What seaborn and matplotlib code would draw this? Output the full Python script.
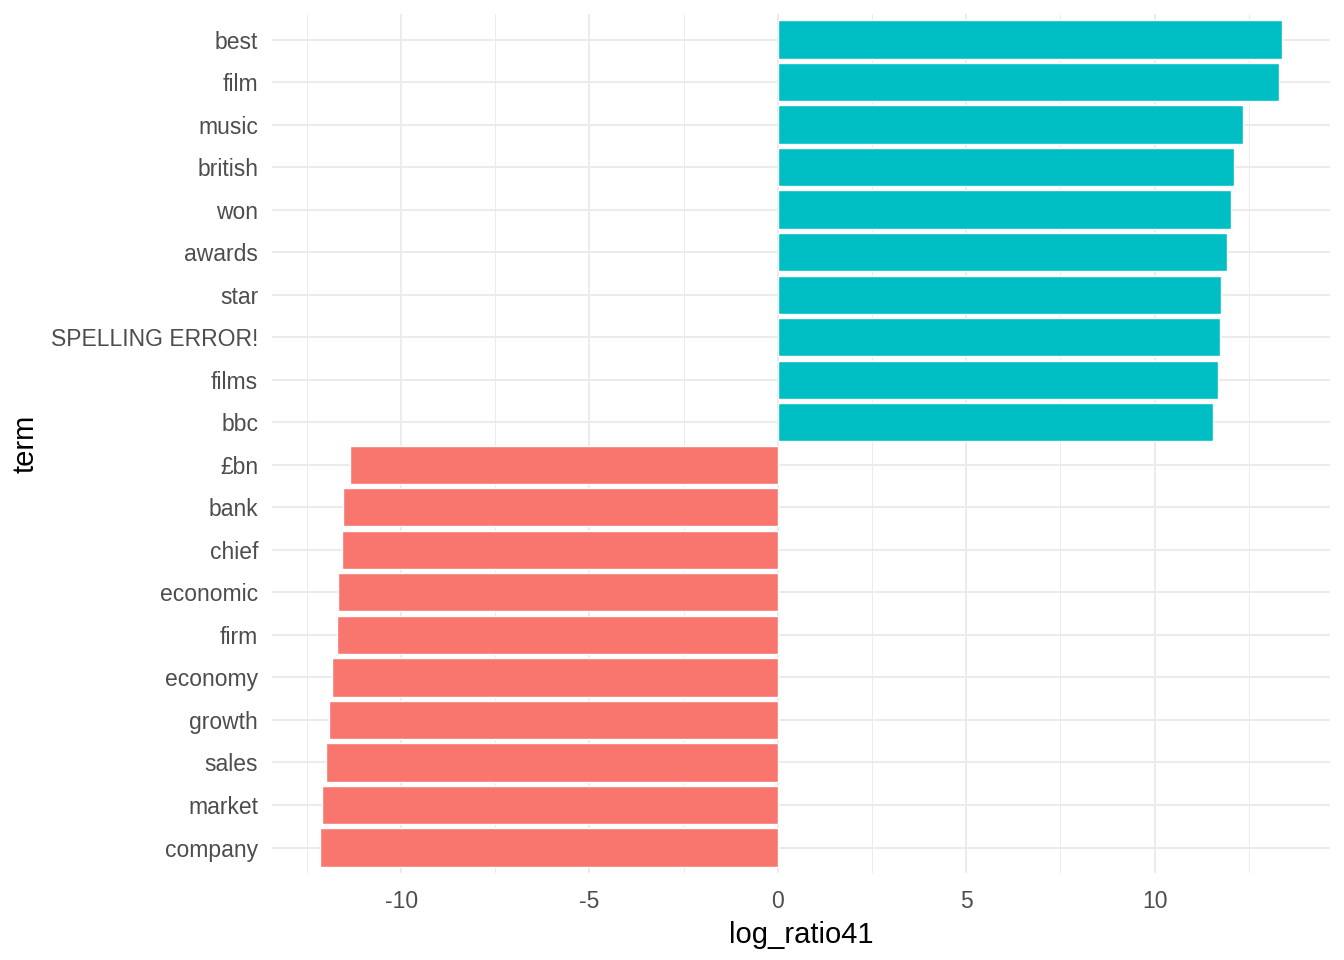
import numpy as np
import pandas as pd
import matplotlib
matplotlib.use("Agg")
import matplotlib.pyplot as plt
import seaborn as sns
from matplotlib.ticker import MultipleLocator

terms = ["best", "film", "music", "british", "won", "awards", "star",
         "SPELLING ERROR!", "films", "bbc", "£bn", "bank", "chief",
         "economic", "firm", "economy", "growth", "sales", "market", "company"]
log_ratio = [13.38, 13.30, 12.34, 12.10, 12.02, 11.91, 11.76, 11.73, 11.68, 11.54,
             -11.36, -11.54, -11.57, -11.68, -11.70, -11.84, -11.91, -11.99, -12.10, -12.15]

df = pd.DataFrame({"term": terms, "log_ratio41": log_ratio})
df["positive"] = df["log_ratio41"] > 0

sns.set_style("white")
plt.rcParams['font.family'] = ['Liberation Sans', 'DejaVu Sans']
plt.rcParams['axes.unicode_minus'] = False

fig = plt.figure(figsize=(13.44, 9.6), dpi=100)
ax = fig.add_axes([0.2024, 0.0906, 0.7872, 0.8948])

sns.barplot(data=df, y="term", x="log_ratio41", hue="positive", order=terms,
            palette={True: "#00BFC4", False: "#F8766D"}, dodge=False,
            width=0.9, orient="h", legend=False, ax=ax, saturation=1)

lo, hi = min(log_ratio), max(log_ratio)
pad = (hi - lo) * 0.05
ax.set_xlim(lo - pad, hi + pad)
ax.set_ylim(len(terms) - 1 + 0.6, -0.6)

ax.xaxis.set_major_locator(MultipleLocator(5))
ax.xaxis.set_minor_locator(MultipleLocator(2.5))
ax.set_axisbelow(True)
ax.grid(which="major", color="#EBEBEB", linewidth=1.4)
ax.grid(which="minor", axis="x", color="#EBEBEB", linewidth=0.7)
for s in ax.spines.values():
    s.set_visible(False)
ax.tick_params(axis="both", which="both", length=0, labelsize=16.5, colors="#4D4D4D")
ax.tick_params(axis="y", pad=10)
ax.tick_params(axis="x", pad=12)
ax.set_xlabel("log_ratio41", fontsize=21, color="black", labelpad=6)
ax.set_ylabel("term", fontsize=21, color="black", labelpad=8)

fig.savefig("out.png", dpi=100)
